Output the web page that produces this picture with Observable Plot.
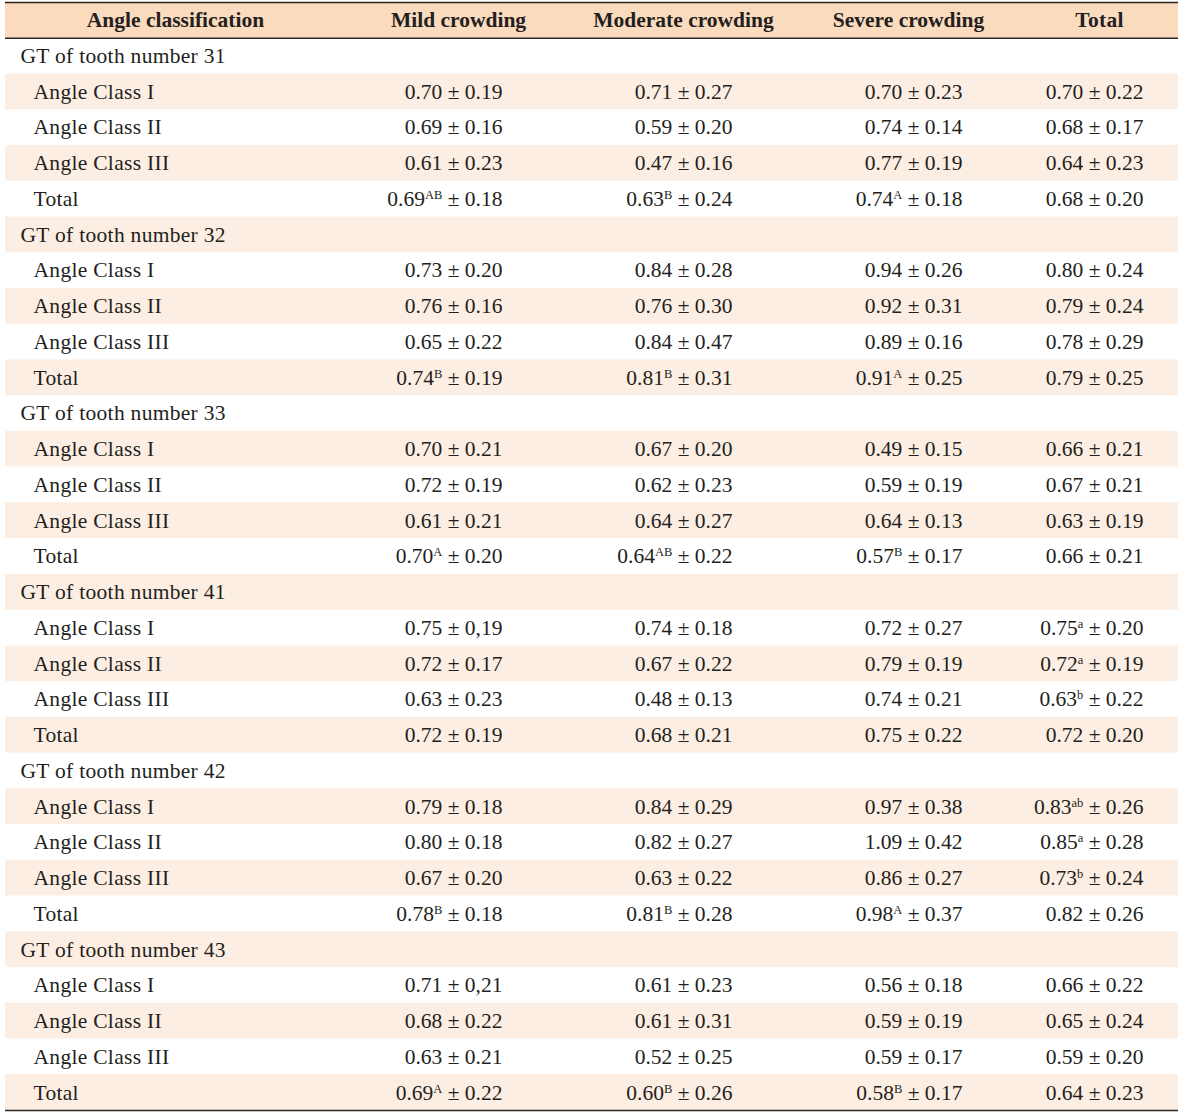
<!DOCTYPE html>
<html>
<head>
<meta charset="utf-8">
<script src="https://cdn.jsdelivr.net/npm/d3@7"></script>
<script src="https://cdn.jsdelivr.net/npm/@observablehq/plot@0.6"></script>
<style>
  html, body { margin: 0; padding: 0; background: #fff; }
  #chart svg { display: block; }
</style>
</head>
<body>
<div id="chart"></div>
<script>
// ---- data ----
const headers = ["Angle classification", "Mild crowding", "Moderate crowding", "Severe crowding", "Total"];
const teeth = ["31", "32", "33", "41", "42", "43"];
const subRows = ["Angle Class I", "Angle Class II", "Angle Class III", "Total"];

const mildMean = ["0.70","0.69","0.61","0.69", "0.73","0.76","0.65","0.74", "0.70","0.72","0.61","0.70", "0.75","0.72","0.63","0.72", "0.79","0.80","0.67","0.78", "0.71","0.68","0.63","0.69"];
const mildSD   = ["0.19","0.16","0.23","0.18", "0.20","0.16","0.22","0.19", "0.21","0.19","0.21","0.20", "0,19","0.17","0.23","0.19", "0.18","0.18","0.20","0.18", "0,21","0.22","0.21","0.22"];
const mildSup  = ["","","","AB", "","","","B", "","","","A", "","","","", "","","","B", "","","","A"];

const modMean = ["0.71","0.59","0.47","0.63", "0.84","0.76","0.84","0.81", "0.67","0.62","0.64","0.64", "0.74","0.67","0.48","0.68", "0.84","0.82","0.63","0.81", "0.61","0.61","0.52","0.60"];
const modSD   = ["0.27","0.20","0.16","0.24", "0.28","0.30","0.47","0.31", "0.20","0.23","0.27","0.22", "0.18","0.22","0.13","0.21", "0.29","0.27","0.22","0.28", "0.23","0.31","0.25","0.26"];
const modSup  = ["","","","B", "","","","B", "","","","AB", "","","","", "","","","B", "","","","B"];

const sevMean = ["0.70","0.74","0.77","0.74", "0.94","0.92","0.89","0.91", "0.49","0.59","0.64","0.57", "0.72","0.79","0.74","0.75", "0.97","1.09","0.86","0.98", "0.56","0.59","0.59","0.58"];
const sevSD   = ["0.23","0.14","0.19","0.18", "0.26","0.31","0.16","0.25", "0.15","0.19","0.13","0.17", "0.27","0.19","0.21","0.22", "0.38","0.42","0.27","0.37", "0.18","0.19","0.17","0.17"];
const sevSup  = ["","","","A", "","","","A", "","","","B", "","","","", "","","","A", "","","","B"];

const totMean = ["0.70","0.68","0.64","0.68", "0.80","0.79","0.78","0.79", "0.66","0.67","0.63","0.66", "0.75","0.72","0.63","0.72", "0.83","0.85","0.73","0.82", "0.66","0.65","0.59","0.64"];
const totSD   = ["0.22","0.17","0.23","0.20", "0.24","0.24","0.29","0.25", "0.21","0.21","0.19","0.21", "0.20","0.19","0.22","0.20", "0.26","0.28","0.24","0.26", "0.22","0.24","0.20","0.23"];
const totSup  = ["","","","", "","","","", "","","","", "a","a","b","", "ab","a","b","", "","","",""];

// ---- layout (not data) ----
const W = 1200, H = 1113;
const tableLeft = 5, tableRight = 1178;
const headerX = [175, 458, 683, 908, 1099];
const valueRight = [502, 732, 962, 1143];
const groupX = 20, subX = 33;
const headerFill = "#fbdbbd", stripeFill = "#fdeee3", ink = "#231f20", lineColor = "#2a2320";
const font = "Liberation Serif";
const fs = 21.5;

// ---- build rows ----
const cols = [[mildMean, mildSD, mildSup], [modMean, modSD, modSup], [sevMean, sevSD, sevSup], [totMean, totSD, totSup]];
const rows = [];
const cells = [];
let r = 1; // row 0 is the header
teeth.forEach((t, ti) => {
  rows.push({row: r, label: `GT of tooth number ${t}`, indent: false});
  r++;
  subRows.forEach((s, si) => {
    const k = ti * 4 + si;
    rows.push({row: r, label: s, indent: true});
    cols.forEach(([m, sd, sup], ci) => {
      const txt = sup[k] ? `${m[k]}{${sup[k]}} ± ${sd[k]}` : `${m[k]} ± ${sd[k]}`;
      cells.push({row: r, col: ci, text: txt});
    });
    r++;
  });
});
const nRows = r; // 31

const stripes = d3.range(1, nRows).filter(i => i % 2 === 0).map(i => ({row: i}));
const headerCells = headers.map((h, i) => ({col: i, text: h}));

const chart = Plot.plot({
  width: W,
  height: H,
  margin: 0,
  x: {domain: [0, W], range: [0, W], axis: null},
  y: {domain: [0, nRows], range: [2, 1110], axis: null},
  marks: [
    Plot.rect([{row: 0}], {x1: () => tableLeft, x2: () => tableRight, y1: d => d.row, y2: d => d.row + 1, fill: headerFill}),
    Plot.rect(stripes, {x1: () => tableLeft, x2: () => tableRight, y1: d => d.row, y2: d => d.row + 1, fill: stripeFill}),
    Plot.ruleY([0, 1, nRows], {x1: tableLeft, x2: tableRight, stroke: lineColor, strokeWidth: 1.6}),
    Plot.text(headerCells, {
      x: d => headerX[d.col], y: () => 0.5, text: "text",
      fontFamily: font, fontSize: fs, fontWeight: "bold", fill: ink, textAnchor: "middle",
      style: "letter-spacing:0.4px"
    }),
    Plot.text(rows, {
      x: d => d.indent ? subX : groupX, y: d => d.row + 0.5, text: "label",
      fontFamily: font, fontSize: fs, fill: ink, textAnchor: "start"
    }),
    Plot.text(cells, {
      x: d => valueRight[d.col], y: d => d.row + 0.5, text: "text",
      fontFamily: font, fontSize: fs, fill: ink, textAnchor: "end"
    })
  ]
});

// apply letter spacing to labels
d3.select(chart).selectAll("text").filter(function () { return /^(GT|Angle Class|Total$)/.test(d3.select(this).text()); })
  .attr("letter-spacing", "0.3px");

// render superscripts: "0.69{AB} ± 0.18" -> tspans
d3.select(chart).selectAll("text").each(function () {
  const el = d3.select(this);
  const t = el.text();
  const m = t.match(/^(.*)\{(.*)\}(.*)$/);
  if (!m) return;
  el.text(null);
  el.append("tspan").text(m[1]);
  el.append("tspan").attr("dy", -7).attr("font-size", 12.5).text(m[2]);
  el.append("tspan").attr("dy", 7).text(m[3]);
});

document.getElementById("chart").append(chart);
</script>
</body>
</html>
